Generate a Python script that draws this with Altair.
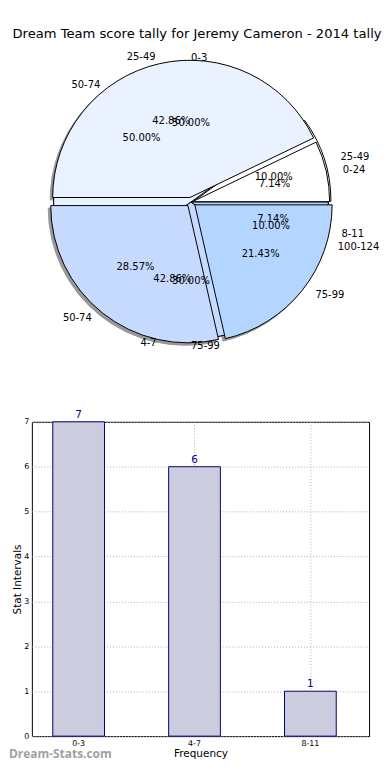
import math
import altair as alt
import pandas as pd

title_text = "Dream Team score tally for Jeremy Cameron - 2014 tally"
watermark_text = "Dream-Stats.com"

# three overlaid pies (drawn in this order: A, C, B on top)
pie_a_labels = ["0-3", "4-7", "8-11"]
pie_a_values = [7, 6, 1]
pie_a_colors = ["#eaf1ff", "#c6d9ff", "#b4d5ff"]
pie_a_explode = [0.0, 0.0, 0.0]

pie_c_labels = ["25-49", "50-74", "75-99", "100-124"]
pie_c_values = [1, 5, 3, 1]
pie_c_colors = ["#ffffff", "#eaf1ff", "#c6d9ff", "#b4d5ff"]
pie_c_explode = [0.02, 0.0, 0.0, 0.0]

pie_b_labels = ["0-24", "25-49", "50-74", "75-99"]
pie_b_values = [1, 6, 4, 3]
pie_b_colors = ["#ffffff", "#eaf1ff", "#c6d9ff", "#b4d5ff"]
pie_b_explode = [0.01, 0.035, 0.035, 0.035]

bar_categories = ["0-3", "4-7", "8-11"]
bar_values = [7, 6, 1]

# ---- derive pie geometry (angles like matplotlib: start at 3 o'clock, counter-clockwise)
rows = []
for name, labels, values, colors, explode in [
    ("A", pie_a_labels, pie_a_values, pie_a_colors, pie_a_explode),
    ("C", pie_c_labels, pie_c_values, pie_c_colors, pie_c_explode),
    ("B", pie_b_labels, pie_b_values, pie_b_colors, pie_b_explode),
]:
    total = sum(values)
    cum = 0
    for i, (lab, v, col, ex) in enumerate(zip(labels, values, colors, explode)):
        a1 = 2 * math.pi * cum / total
        cum += v
        a2 = 2 * math.pi * cum / total
        mid = (a1 + a2) / 2
        cx = ex * math.cos(mid)
        cy = ex * math.sin(mid)
        rows.append({
            "pie": name, "label": lab, "value": v, "color": col,
            "t1": math.pi / 2 - a1, "t2": math.pi / 2 - a2,
            "cx": cx, "cy": cy,
            "lx": cx + 1.1 * math.cos(mid), "ly": cy + 1.1 * math.sin(mid),
            "px": cx + 0.6 * math.cos(mid), "py": cy + 0.6 * math.sin(mid),
            "side": "L" if math.cos(mid) > -1e-9 else "R",
            "pct": f"{v / total * 100:.2f}%",
        })
pie_df = pd.DataFrame(rows)

L = 31  # page x of plot left
CX, CY = 191, 198  # page position of pie centre
RX, RY = 141, 132  # pixels per pie radius unit
PIE_W, PIE_H = 339, 305
T = 45  # page y of pie panel top
xs = alt.Scale(domain=[-(CX - L) / RX, (L + PIE_W - CX) / RX], nice=False, zero=False)
ys = alt.Scale(domain=[-(T + PIE_H - CY) / RY, (CY - T) / RY], nice=False, zero=False)
R = 138

base = alt.Chart(pie_df)

shadow = base.transform_filter(alt.datum.pie == "B").transform_calculate(
    sx=f"datum.cx - 2.5/{RX}", sy=f"datum.cy - 2.5/{RY}"
).mark_arc(
    radius=R, fill="#555555", opacity=0.6, stroke="#555555", strokeWidth=1
).encode(
    theta=alt.Theta("t1:Q", scale=None),
    theta2=alt.Theta2("t2:Q"),
    x=alt.X("sx:Q", scale=xs, axis=None),
    y=alt.Y("sy:Q", scale=ys, axis=None),
)

def arcs(name):
    return base.transform_filter(alt.datum.pie == name).mark_arc(
        radius=R, stroke="black", strokeWidth=1
    ).encode(
        theta=alt.Theta("t1:Q", scale=None),
        theta2=alt.Theta2("t2:Q"),
        x=alt.X("cx:Q", scale=xs, axis=None),
        y=alt.Y("cy:Q", scale=ys, axis=None),
        fill=alt.Fill("color:N", scale=None),
    )

lab_left = base.transform_filter(alt.datum.side == "L").mark_text(
    align="left", baseline="middle", fontSize=10, font="DejaVu Sans", color="black"
).encode(x=alt.X("lx:Q", scale=xs, axis=None), y=alt.Y("ly:Q", scale=ys, axis=None), text="label:N")
lab_right = base.transform_filter(alt.datum.side == "R").mark_text(
    align="right", baseline="middle", fontSize=10, font="DejaVu Sans", color="black"
).encode(x=alt.X("lx:Q", scale=xs, axis=None), y=alt.Y("ly:Q", scale=ys, axis=None), text="label:N")
pct = base.mark_text(
    align="center", baseline="middle", fontSize=10, font="DejaVu Sans", color="black"
).encode(x=alt.X("px:Q", scale=xs, axis=None), y=alt.Y("py:Q", scale=ys, axis=None), text="pct:N")

pie = alt.layer(shadow, arcs("A"), arcs("C"), arcs("B"), lab_left, lab_right, pct).properties(
    width=PIE_W, height=PIE_H, view=alt.ViewBackground(stroke="transparent")
)

# ---- bar chart
BAR_H = 316
bar_df = pd.DataFrame({"cat": bar_categories, "val": bar_values})
xb = alt.X(
    "cat:N", sort=bar_categories,
    scale=alt.Scale(paddingInner=0.5536, paddingOuter=0.2318, align=0.389),
    axis=alt.Axis(title="Frequency", labelAngle=0, labelFontSize=8, labelPadding=3,
                  grid=True, gridDash=[1, 2], gridColor="#b0b0b0", bandPosition=0.5,
                  tickSize=0, domain=False, titleFontSize=10.5, titlePadding=1),
)
yb = alt.Y(
    "val:Q", scale=alt.Scale(domain=[0, 7], nice=False),
    axis=alt.Axis(title="Stat Intervals", values=list(range(8)), labelFontSize=8, labelPadding=3,
                  grid=True, gridDash=[1, 2], gridColor="#b0b0b0", tickSize=0, domain=False,
                  titleFontSize=10.5, titlePadding=1),
)
bars = alt.Chart(bar_df).mark_bar(fill="#ccccdf", stroke="#000080", strokeWidth=1).encode(x=xb, y=yb)
bar_text = alt.Chart(bar_df).mark_text(
    baseline="bottom", dy=-2, color="#000080", fontSize=10.5, font="DejaVu Sans"
).encode(x=xb, y=yb, text="val:Q")
wm = alt.Chart(pd.DataFrame({"t": [watermark_text]})).mark_text(
    align="left", baseline="middle", fontSize=12, font="Open Sans", fontWeight="bold", color="#a0a0a0"
).encode(x=alt.value(-L + 8), y=alt.value(BAR_H + 18), text="t:N")

bar = alt.layer(bars, bar_text, wm).properties(
    width=PIE_W, height=BAR_H, view=alt.ViewBackground(stroke="black", strokeWidth=1)
)

chart = alt.vconcat(pie, bar, spacing=55).properties(
    padding={"left": 0, "top": 17, "right": 0, "bottom": 0},
    title=alt.TitleParams(title_text, fontSize=13.2, font="DejaVu Sans", fontWeight="normal",
                          anchor="start", dx=4, offset=8, color="black"),
).configure_axis(
    labelFont="DejaVu Sans", titleFont="DejaVu Sans", labelColor="black", titleColor="black",
    titleFontWeight="normal"
)

chart.save("out.html", embed_options={"renderer": "svg", "actions": False})
